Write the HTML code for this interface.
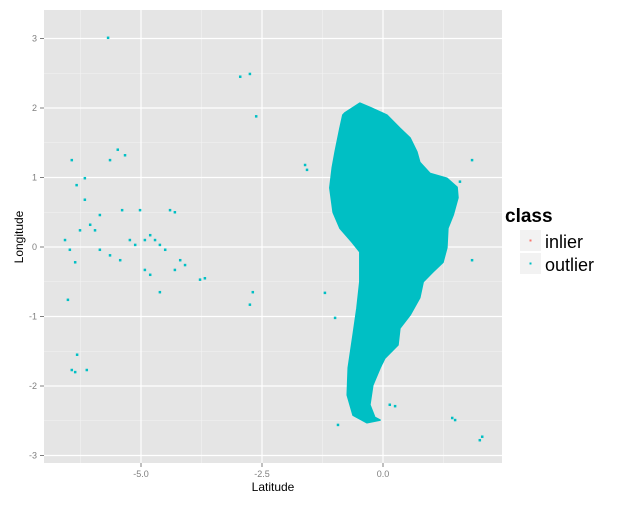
<!DOCTYPE html>
<html><head><meta charset="utf-8"><style>
html,body{margin:0;padding:0;background:#fff;}
svg{display:block;font-family:"Liberation Sans",sans-serif;}
</style></head><body>
<svg id="chart" width="635" height="505" xmlns="http://www.w3.org/2000/svg">
<rect x="44" y="10" width="458" height="453" fill="#E5E5E5"/>
<g id="grid"></g>
<g id="marks"></g>
<g id="axes"></g>
<text x="273" y="491" font-size="12" text-anchor="middle" fill="#000">Latitude</text>
<text transform="translate(23,237) rotate(-90)" font-size="12" text-anchor="middle" fill="#000">Longitude</text>
<g>
<text x="505" y="222" font-size="19" font-weight="bold">class</text>
<g>
<rect x="520" y="230" width="21" height="21" fill="#F2F2F2"/>
<rect x="529.5" y="239.5" width="2" height="2" fill="#F8766D"/>
<text x="545" y="248" font-size="18">inlier</text>
</g>
<g>
<rect x="520" y="253" width="21" height="21" fill="#F2F2F2"/>
<rect x="529.5" y="262.5" width="2" height="2" fill="#00BFC4"/>
<text x="545" y="271" font-size="18">outlier</text>
</g>
</g>
</svg>
<script>
const xTicks=[-5.0,-2.5,0.0];
const xTickLabels=["-5.0","-2.5","0.0"];
const yTicks=[-3,-2,-1,0,1,2,3];
const yTickLabels=["-3","-2","-1","0","1","2","3"];
const continentLat=[-0.79,-0.48,-0.27,0.08,0.35,0.56,0.70,0.76,0.97,1.32,1.53,1.55,1.45,1.34,1.32,1.24,1.03,0.83,0.76,0.56,0.35,0.31,0.04,-0.06,-0.21,-0.27,-0.17,-0.06,-0.33,-0.62,-0.74,-0.72,-0.62,-0.54,-0.48,-0.48,-0.64,-0.89,-1.03,-1.10,-1.05,-0.99,-0.89,-0.83];
const continentLon=[1.93,2.07,2.01,1.90,1.71,1.57,1.37,1.22,1.06,0.99,0.86,0.71,0.46,0.27,-0.01,-0.22,-0.36,-0.50,-0.73,-0.98,-1.17,-1.41,-1.60,-1.74,-1.99,-2.27,-2.45,-2.49,-2.53,-2.42,-2.13,-1.74,-1.27,-0.88,-0.50,-0.07,0.07,0.27,0.50,0.85,1.14,1.37,1.71,1.90];
const pointLat=[-5.68,-2.95,-2.75,-2.62,-1.61,-1.57,-6.43,-6.33,-6.16,-6.16,-6.05,-5.95,-5.85,-5.64,-5.48,-5.33,-5.39,-5.02,-4.92,-4.81,-4.71,-4.61,-4.50,-4.40,-4.30,-4.19,-4.09,-4.30,-5.23,-5.12,-5.43,-5.64,-5.85,-6.57,-6.47,-6.36,-6.26,-4.92,-4.81,-4.61,-3.78,-3.68,-6.51,-6.32,-6.43,-6.36,-6.12,-2.69,-2.75,-1.20,-0.99,-0.93,0.14,0.25,1.43,1.49,2.00,2.05,1.84,1.59,1.84];
const pointLon=[3.01,2.45,2.49,1.88,1.18,1.11,1.25,0.89,0.99,0.68,0.32,0.24,0.46,1.25,1.40,1.32,0.53,0.53,0.10,0.17,0.10,0.03,-0.04,0.53,0.50,-0.19,-0.26,-0.33,0.10,0.03,-0.19,-0.12,-0.04,0.10,-0.04,-0.22,0.24,-0.33,-0.40,-0.65,-0.47,-0.45,-0.76,-1.55,-1.77,-1.80,-1.77,-0.65,-0.83,-0.66,-1.02,-2.56,-2.27,-2.29,-2.46,-2.49,-2.78,-2.73,1.25,0.94,-0.19];
const NS="http://www.w3.org/2000/svg";
const X=v=>383+v*48.4, Y=v=>247-v*69.5;
function mk(tag,attrs,parent){const e=document.createElementNS(NS,tag);for(const k in attrs)e.setAttribute(k,attrs[k]);parent.appendChild(e);return e;}
const grid=document.getElementById('grid'),marks=document.getElementById('marks'),axes=document.getElementById('axes');
for(let i=0;i<xTicks.length+1;i++){const v=xTicks[0]-1.25+i*2.5;if(X(v)>44&&X(v)<502){const l=mk('line',{x1:X(v),x2:X(v),y1:10,y2:463,stroke:'#F2F2F2','stroke-width':0.6},grid);}}
for(let i=0;i<yTicks.length+1;i++){const v=yTicks[0]-0.5+i;if(Y(v)>10&&Y(v)<463){const l=mk('line',{x1:44,x2:502,y1:Y(v),y2:Y(v),stroke:'#F2F2F2','stroke-width':0.6},grid);}}
xTicks.forEach((v,i)=>{
 const l=mk('line',{x1:X(v),x2:X(v),y1:10,y2:463,stroke:'#fff','stroke-width':1.2},grid);
 
 const t=mk('line',{x1:X(v),x2:X(v),y1:463,y2:467,stroke:'#7F7F7F'},axes);
 
 const tx=mk('text',{x:X(v),y:477,'font-size':9,'text-anchor':'middle',fill:'#7F7F7F'},axes);tx.textContent=xTickLabels[i];
 
});
yTicks.forEach((v,i)=>{
 const l=mk('line',{x1:44,x2:502,y1:Y(v),y2:Y(v),stroke:'#fff','stroke-width':1.2},grid);
 
 const t=mk('line',{x1:40,x2:44,y1:Y(v),y2:Y(v),stroke:'#7F7F7F'},axes);
 
 const tx=mk('text',{x:37,y:Y(v)+3,'font-size':9,'text-anchor':'end',fill:'#7F7F7F'},axes);tx.textContent=yTickLabels[i];
 
});
const pts=continentLat.map((v,i)=>X(v).toFixed(1)+','+Y(continentLon[i]).toFixed(1)).join(' ');
const poly=mk('polygon',{points:pts,fill:'#00BFC4',stroke:'#00BFC4','stroke-width':1.5,'stroke-linejoin':'round'},marks);

pointLat.forEach((v,i)=>{
 const r=mk('rect',{x:X(v)-1.25,y:Y(pointLon[i])-1.25,width:2.5,height:2.5,fill:'#00BFC4'},marks);
 
});
</script>
</body></html>
